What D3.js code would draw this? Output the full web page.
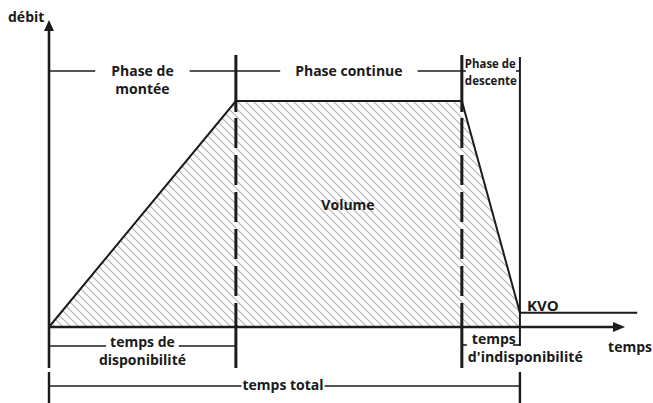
<!DOCTYPE html>
<html>
<head>
<meta charset="utf-8">
<script src="https://cdn.jsdelivr.net/npm/d3@7"></script>
<style>
  html, body { margin: 0; padding: 0; background: #fff; }
  svg { display: block; }
  text { font-family: "Open Sans", "Noto Sans", sans-serif; font-weight: 700; fill: #1a1a1a; }
</style>
</head>
<body>
<svg id="chart" width="653" height="403"></svg>
<script>
// Débit profile: time (arbitrary units) and flow rate (% of plateau)
const profileTime = [0, 32.5, 71.8, 81.9, 102.3];
const profileFlow = [0, 100, 100, 6.3, 6.3];

// Phase boundaries on the time axis
const phaseBounds = [0, 32.5, 71.8, 81.9];
const phaseNames = [["Phase de", "montée"], ["Phase continue"], ["Phase de", "descente"]];

const axisLabels = { y: "débit", x: "temps" };
const kvoLabel = "KVO";
const areaLabel = "Volume";
const timeLabels = [["temps de", "disponibilité"], ["temps", "d'indisponibilité"], ["temps total"]];

const W = 653, H = 403;
const ink = "#1c1c1c";
const fs = 14;
const svg = d3.select("#chart");

const x = d3.scaleLinear().domain([0, 100]).range([49, 624]);
const y = d3.scaleLinear().domain([0, 100]).range([327, 101]);

const profile = profileTime.map((t, i) => ({ t, q: profileFlow[i] }));

// Hatch pattern for the delivered volume
const defs = svg.append("defs");
const pat = defs.append("pattern")
  .attr("id", "hatch").attr("patternUnits", "userSpaceOnUse")
  .attr("width", 8).attr("height", 8);
pat.append("path")
  .attr("d", "M-2,6 L2,10 M0,0 L8,8 M6,-2 L10,2")
  .attr("stroke", "#b3b3b3").attr("stroke-width", 1.2);

// Area under the curve up to the end of the descent phase
const tEnd = phaseBounds[3];
const volumePts = profile.filter(d => d.t <= tEnd).concat([{ t: tEnd, q: 0 }]);
svg.append("path")
  .attr("d", d3.line().x(d => x(d.t)).y(d => y(d.q))(volumePts) + "Z")
  .attr("fill", "url(#hatch)");

// Profile outline
svg.append("path")
  .attr("d", d3.line().x(d => x(d.t)).y(d => y(d.q))(profile))
  .attr("fill", "none").attr("stroke", ink).attr("stroke-width", 2)
  .attr("stroke-linejoin", "miter");

// Axes with arrowheads
const y0 = y(0), x0 = x(0);
const yTop = 20, xRight = 625;
svg.append("line").attr("x1", x0).attr("x2", x0).attr("y1", yTop + 8).attr("y2", 368)
  .attr("stroke", ink).attr("stroke-width", 2.6);
svg.append("path").attr("d", `M${x0},${yTop} L${x0 - 5},${yTop + 11} L${x0 + 5},${yTop + 11}Z`).attr("fill", ink);
svg.append("line").attr("x1", x0).attr("x2", xRight - 8).attr("y1", y0).attr("y2", y0)
  .attr("stroke", ink).attr("stroke-width", 2.6);
svg.append("path").attr("d", `M${xRight},${y0} L${xRight - 12},${y0 - 5} L${xRight - 12},${y0 + 5}Z`).attr("fill", ink);

// Dashed phase separators
[phaseBounds[1], phaseBounds[2]].forEach(t => {
  const px = x(t);
  const g = svg.append("g").attr("stroke", ink).attr("stroke-width", 3);
  g.append("line").attr("x1", px).attr("x2", px).attr("y1", 55).attr("y2", 112);
  g.append("line").attr("x1", px).attr("x2", px).attr("y1", 118).attr("y2", 296)
    .attr("stroke-dasharray", "30,7");
  g.append("line").attr("x1", px).attr("x2", px).attr("y1", 303).attr("y2", 368);
});

// End of descent
const pxEnd = x(phaseBounds[3]);
svg.append("line").attr("x1", pxEnd).attr("x2", pxEnd).attr("y1", 57).attr("y2", 346)
  .attr("stroke", ink).attr("stroke-width", 2);

// Text helper
function label(str, tx, ty, anchor, size, opts = {}) {
  const t = svg.append("text").attr("x", tx).attr("y", ty)
    .attr("text-anchor", anchor || "start").attr("font-size", size).text(str);
  if (opts.len) t.attr("textLength", opts.len).attr("lengthAdjust", "spacingAndGlyphs");
  return t;
}
function hline(x1, x2, yy, w) {
  svg.append("line").attr("x1", x1).attr("x2", x2).attr("y1", yy).attr("y2", yy)
    .attr("stroke", ink).attr("stroke-width", w || 1.6);
}
// Bracket line interrupted by a text block
function bracket(xa, xb, yy, box, pad) {
  hline(xa, box.x - pad, yy);
  hline(box.x + box.width + pad, xb, yy);
}

// Phase brackets
const phaseY = 71;
const mid0 = (x(phaseBounds[0]) + x(phaseBounds[1])) / 2;
const t1 = label(phaseNames[0][0], mid0, 76, "middle", fs);
label(phaseNames[0][1], mid0, 94, "middle", fs);
bracket(x(phaseBounds[0]), x(phaseBounds[1]), phaseY, t1.node().getBBox(), 16);

const mid1 = (x(phaseBounds[1]) + x(phaseBounds[2])) / 2;
const t2 = label(phaseNames[1][0], mid1, 76, "middle", fs);
bracket(x(phaseBounds[1]), x(phaseBounds[2]), phaseY, t2.node().getBBox(), 15);

label(phaseNames[2][0], x(phaseBounds[2]) + 3, 68, "start", 13, { len: 51 });
label(phaseNames[2][1], x(phaseBounds[2]) + 3, 85, "start", 13, { len: 52 });
hline(x(phaseBounds[2]), x(phaseBounds[2]) + 4, phaseY);
hline(pxEnd - 4, pxEnd, phaseY);

// Axis and area labels
label(axisLabels.y, 8, 22, "start", fs);
label(axisLabels.x, 652, 352, "end", fs);
label(areaLabel, 348, 210, "middle", fs);
label(kvoLabel, 527, 311, "start", 15);

// Time brackets below the axis
const bY = 346;
const tb1 = label(timeLabels[0][0], mid0, 347, "middle", fs);
label(timeLabels[0][1], mid0, 365, "middle", fs);
bracket(x(phaseBounds[0]), x(phaseBounds[1]), bY, tb1.node().getBBox(), 4);

label(timeLabels[1][0], x(phaseBounds[2]) + 10, 344, "start", fs);
label(timeLabels[1][1], x(phaseBounds[2]) + 6, 362, "start", fs, { len: 115 });
hline(x(phaseBounds[2]), x(phaseBounds[2]) + 5, bY - 1);
hline(pxEnd - 7, pxEnd, bY - 1);

// Total time
const totY = 386;
svg.append("line").attr("x1", x0).attr("x2", x0).attr("y1", 372).attr("y2", 403)
  .attr("stroke", ink).attr("stroke-width", 2.4);
svg.append("line").attr("x1", pxEnd).attr("x2", pxEnd).attr("y1", 372).attr("y2", 403)
  .attr("stroke", ink).attr("stroke-width", 2.4);
const tt = label(timeLabels[2][0], 283, 390, "middle", fs);
bracket(x0, pxEnd, totY, tt.node().getBBox(), 1);
</script>
</body>
</html>
